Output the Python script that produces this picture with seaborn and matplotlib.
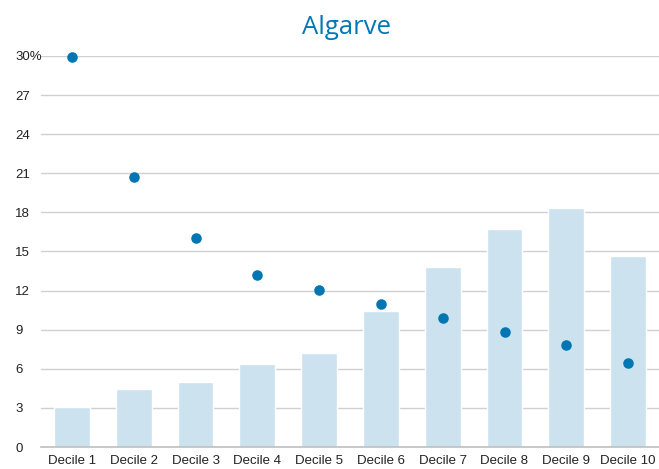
import matplotlib
matplotlib.use("Agg")
import matplotlib.pyplot as plt
import seaborn as sns
import pandas as pd

# Income deciles for the Algarve region
deciles = ["Decile 1", "Decile 2", "Decile 3", "Decile 4", "Decile 5",
           "Decile 6", "Decile 7", "Decile 8", "Decile 9", "Decile 10"]
bar_values = [3.05, 4.45, 5.0, 6.37, 7.2, 10.44, 13.8, 16.73, 18.3, 14.63]
dot_values = [29.9, 20.74, 16.06, 13.2, 12.05, 10.97, 9.92, 8.85, 7.8, 6.42]
y_ticks = [0, 3, 6, 9, 12, 15, 18, 21, 24, 27, 30]
y_tick_labels = ["0", "3", "6", "9", "12", "15", "18", "21", "24", "27", "30%"]

df = pd.DataFrame({"decile": deciles, "bar": bar_values, "dot": dot_values})

sns.set_theme(style="white")
plt.rcParams["font.family"] = ["Liberation Sans", "DejaVu Sans"]

fig = plt.figure(figsize=(6.59, 4.69), dpi=100)
ax = fig.add_axes([41 / 659, 1 - 447 / 469, 1 - 41 / 659, (447 - 56) / 469])

sns.barplot(data=df, x="decile", y="bar", color="#cce3ef", saturation=1,
            width=0.58, ax=ax, zorder=2)
sns.stripplot(data=df, x="decile", y="dot", color="#0077b3", jitter=False,
              size=7.6, linewidth=0, ax=ax, zorder=3, clip_on=False)

ax.set_ylim(0, 30)
ax.set_xlim(-0.5, 9.5)
ax.set_yticks(y_ticks)
ax.set_yticklabels(y_tick_labels)
ax.grid(axis="y", color="#d0d0d0", linewidth=1.0, zorder=0)
ax.set_axisbelow(True)

for side in ["top", "right", "left"]:
    ax.spines[side].set_visible(False)
ax.spines["bottom"].set_color("#bfbfbf")
ax.spines["bottom"].set_linewidth(1.2)

ax.tick_params(axis="y", length=0, pad=18.7, labelsize=9.5, labelcolor="#222222")
for lbl in ax.get_yticklabels():
    lbl.set_horizontalalignment("left")
ax.tick_params(axis="x", length=0, pad=6, labelsize=9.5, labelcolor="#222222")

ax.set_xlabel("")
ax.set_ylabel("")

fig.text(347 / 659, 1 - 28 / 469, "Algarve", ha="center", va="center",
         fontsize=18.5, color="#0078b4", family=["Open Sans", "DejaVu Sans"])

fig.savefig("out.png", dpi=100)
